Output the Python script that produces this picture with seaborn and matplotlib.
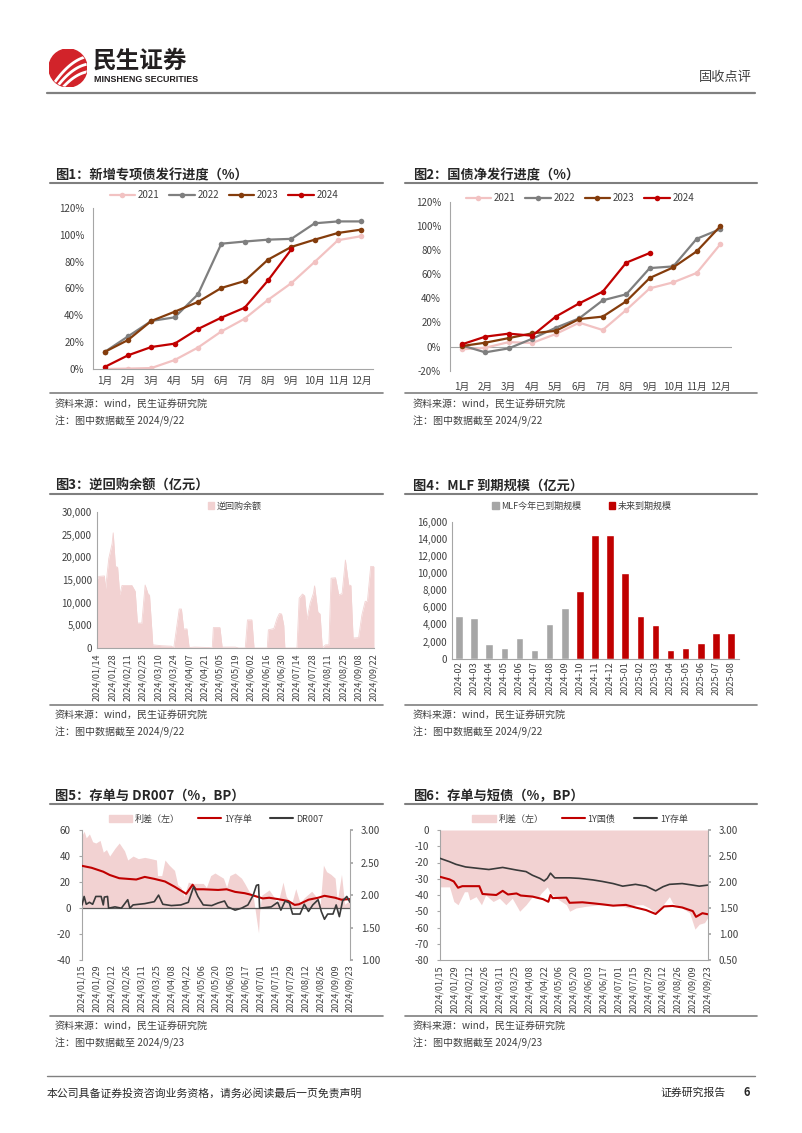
import numpy as np
import pandas as pd
import matplotlib
matplotlib.use("Agg")
import matplotlib.pyplot as plt
import matplotlib.ticker as mticker
from matplotlib.lines import Line2D
from matplotlib.patches import Patch, Circle
import seaborn as sns

sns.set_theme(style="white")
plt.rcParams["font.family"] = ["Noto Sans CJK SC", "DejaVu Sans"]
plt.rcParams["axes.unicode_minus"] = False

# ---------------- data ----------------
months = ["1月", "2月", "3月", "4月", "5月", "6月", "7月", "8月", "9月", "10月", "11月", "12月"]

f1_2021 = [0, 0.3, 0.7, 6.7, 16, 28, 37.5, 51.5, 64, 79.8, 96, 99]
f1_2022 = [12.7, 24.3, 35.8, 38.5, 55.7, 93.4, 95, 96.4, 97, 108.6, 110, 110]
f1_2023 = [12.7, 21.6, 35.8, 42.7, 50, 60.4, 65.6, 81.5, 91, 96.4, 101.4, 103.9]
f1_2024 = [1.5, 10.2, 16.4, 18.9, 29.8, 38.3, 45.7, 66, 89.2]

f2_2021 = [-2.3, -1, 3.7, 3, 10.4, 19.8, 13.7, 30.3, 48.2, 53.2, 61, 84.7]
f2_2022 = [1, -4.8, -1.5, 6.5, 15.6, 23.4, 38.3, 43.3, 65, 66.4, 89.3, 97.3]
f2_2023 = [0.4, 3.2, 7, 11, 13, 22.8, 24.8, 37.5, 56.8, 65.6, 78.9, 99.6]
f2_2024 = [1.8, 8.2, 10.7, 9, 24.8, 35.8, 45.5, 69.5, 77.5]

rr_dates = ["01-14", "01-16", "01-21", "01-22", "01-25", "01-28", "01-29", "01-31", "02-02", "02-04",
            "02-06", "02-15", "02-18", "02-20", "02-24", "02-27", "03-01", "03-02", "03-05", "03-13",
            "03-22", "03-24", "03-29", "03-31", "04-02", "04-05", "04-07", "04-12", "04-25", "04-28",
            "04-29", "05-05", "05-07", "05-19", "05-22", "05-28", "05-30", "06-03", "06-05", "06-17",
            "06-18", "06-23", "06-26", "06-28", "06-30", "07-02", "07-03", "07-14", "07-16", "07-19",
            "07-21", "07-23", "07-26", "07-29", "07-30", "08-02", "08-04", "08-06", "08-09", "08-12",
            "08-14", "08-18", "08-21", "08-24", "08-27", "08-30", "09-01", "09-03", "09-08", "09-11",
            "09-14", "09-16", "09-19", "09-22"]
rr_vals = [15000, 15800, 15900, 13000, 19800, 23000, 25400, 18000, 17800, 11700,
           13800, 13800, 12500, 5500, 5500, 13900, 11700, 11700, 700, 500,
           400, 0, 8600, 8600, 4200, 4200, 100, 200, 100, 0,
           4500, 4500, 200, 200, 0, 0, 6200, 6200, 0, 0,
           4000, 4300, 6600, 7600, 7500, 5000, 0, 0, 11000, 11900,
           11500, 6200, 9900, 12100, 13700, 7900, 7500, 0, 700, 700,
           15400, 15500, 11700, 12000, 19400, 13900, 13800, 2200, 2300, 7300,
           10300, 10300, 18000, 18000]

mlf_months = ["2024-02", "2024-03", "2024-04", "2024-05", "2024-06", "2024-07", "2024-08", "2024-09",
              "2024-10", "2024-11", "2024-12", "2025-01", "2025-02", "2025-03", "2025-04", "2025-05",
              "2025-06", "2025-07", "2025-08"]
mlf_vals = [5000, 4810, 1700, 1250, 2370, 1030, 4010, 5890,
            7890, 14500, 14500, 10000, 5000, 3880, 1000, 1250, 1800, 3000, 3000]
mlf_group = ["MLF今年已到期规模"] * 8 + ["未来到期规模"] * 11

f5_sp_dates = ["01-15", "01-17", "01-19", "01-22", "01-25", "01-28", "02-01", "02-04", "02-07", "02-10",
               "02-15", "02-19", "02-24", "02-27", "03-03", "03-08", "03-14", "03-20", "03-25", "03-26",
               "03-30", "04-02", "04-06", "04-11", "04-14", "04-17", "04-20", "04-24", "04-28", "05-08",
               "05-11", "05-15", "05-19", "05-23", "05-27", "05-30", "06-02", "06-07", "06-13", "06-16",
               "06-20", "06-24", "06-27", "06-29", "06-30", "07-02", "07-09", "07-14", "07-17", "07-22",
               "07-25", "07-30", "08-03", "08-07", "08-11", "08-18", "08-22", "08-26", "08-29", "09-01",
               "09-05", "09-09", "09-11", "09-15", "09-18", "09-21", "09-23"]
f5_spread = [56, 59, 54, 57, 51, 50, 52, 43, 45, 40,
             46, 50, 44, 37, 40, 38, 39, 38, 37, 25,
             25, 37, 33, 29, 18, 16, 9, 20, 19, 19,
             16, 25, 27, 25, 23, 16, 25, 27, 23, 19,
             13, 9, -8, -19, -3, 10, 14, 8, 3, 20,
             9, 3, 15, 4, 8, 13, 9, 3, 33, 28,
             26, 23, 5, 26, 3, 5, 4]

f5_cd_dates = ["01-15", "01-24", "02-04", "02-10", "02-19", "02-27", "03-06", "03-14", "03-23", "04-02",
               "04-11", "04-17", "04-22", "04-25", "04-28", "05-01", "05-08", "05-22", "05-30", "06-07",
               "06-16", "06-21", "06-27", "07-03", "07-09", "07-17", "07-27", "08-02", "08-06", "08-15",
               "08-24", "08-30", "09-09", "09-15", "09-23"]
f5_cd = [2.45, 2.42, 2.36, 2.31, 2.26, 2.25, 2.24, 2.28, 2.25, 2.21,
         2.13, 2.07, 2.02, 2.09, 2.16, 2.09, 2.09, 2.08, 2.09, 2.05,
         2.03, 2.01, 1.98, 1.95, 1.96, 1.94, 1.91, 1.85, 1.86, 1.93,
         1.96, 1.99, 1.96, 1.93, 1.94]

f5_dr_dates = ["01-15", "01-17", "01-19", "01-22", "01-25", "01-28", "02-02", "02-04", "02-05", "02-08",
               "02-09", "02-15", "02-21", "02-27", "02-29", "03-03", "03-14", "03-23", "03-27", "03-31",
               "04-08", "04-17", "04-24", "04-29", "05-03", "05-08", "05-16", "05-22", "05-28", "05-31",
               "06-07", "06-13", "06-19", "06-24", "06-27", "06-29", "06-30", "07-11", "07-17", "07-20",
               "07-24", "07-28", "07-31", "08-07", "08-11", "08-15", "08-19", "08-24", "08-27", "08-30",
               "09-02", "09-07", "09-10", "09-13", "09-16", "09-20", "09-23"]
f5_dr = [1.85, 1.98, 1.86, 1.89, 1.86, 1.98, 1.98, 1.85, 1.97, 1.98,
         1.80, 1.82, 1.80, 1.93, 1.80, 1.85, 1.87, 1.90, 2.00, 1.86,
         1.84, 1.85, 1.89, 2.13, 1.98, 1.85, 1.84, 1.88, 1.91, 1.82,
         1.77, 1.80, 1.85, 2.00, 2.15, 2.16, 1.80, 1.82, 1.89, 1.77,
         1.91, 1.88, 1.71, 1.71, 1.86, 1.75, 1.85, 1.93, 1.75, 1.63,
         1.71, 1.71, 1.85, 1.67, 1.91, 1.98, 1.89]

f6_sp_dates = ["01-15", "01-24", "01-28", "02-01", "02-07", "02-10", "02-12", "02-18", "02-23", "02-27",
               "03-05", "03-11", "03-17", "03-23", "03-30", "04-05", "04-11", "04-16", "04-19", "04-22",
               "04-25", "04-28", "05-02", "05-06", "05-13", "05-16", "05-22", "05-31", "06-13", "06-26",
               "07-05", "07-11", "07-17", "07-24", "07-30", "08-05", "08-12", "08-18", "08-21", "08-30",
               "09-06", "09-11", "09-15", "09-20", "09-23"]
f6_spread = [-35, -35, -44, -46, -38, -38, -43, -41, -46, -40,
             -44, -42, -46, -42, -50, -46, -41, -42, -39, -37,
             -35, -39, -41, -43, -46, -50, -48, -47, -46, -46,
             -47, -48, -46, -46, -48, -51, -46, -41, -45, -48,
             -51, -61, -58, -57, -54]

f6_cd_dates = ["01-15", "01-24", "01-30", "02-08", "02-21", "03-01", "03-14", "03-27", "04-05", "04-11",
               "04-18", "04-22", "04-25", "04-28", "05-02", "05-16", "05-25", "06-07", "06-16", "06-26",
               "07-05", "07-17", "07-27", "08-05", "08-12", "08-18", "08-30", "09-09", "09-15", "09-23"]
f6_cd = [2.455, 2.39, 2.34, 2.29, 2.26, 2.24, 2.28, 2.23, 2.20, 2.13,
         2.07, 2.02, 2.07, 2.17, 2.08, 2.08, 2.07, 2.04, 2.01, 1.97,
         1.92, 1.955, 1.92, 1.83, 1.91, 1.955, 1.97, 1.94, 1.92, 1.94]

f6_tb_dates = ["01-15", "01-24", "01-28", "02-01", "02-05", "02-21", "02-24", "03-01", "03-08", "03-14",
               "03-19", "03-27", "03-31", "04-11", "04-21", "04-26", "04-28", "04-30", "05-13", "05-16",
               "05-28", "06-07", "06-16", "06-26", "07-08", "07-17", "07-27", "08-05", "08-13", "08-21",
               "08-30", "09-09", "09-12", "09-18", "09-23"]
f6_tb = [2.10, 2.05, 2.01, 1.89, 1.92, 1.92, 1.77, 1.76, 1.75, 1.83,
         1.76, 1.78, 1.74, 1.72, 1.67, 1.62, 1.75, 1.69, 1.70, 1.60,
         1.61, 1.59, 1.57, 1.545, 1.56, 1.51, 1.46, 1.385, 1.53, 1.54,
         1.51, 1.44, 1.33, 1.40, 1.38]

# ---------------- helpers ----------------
W, H = 802, 1133
RED = "#C00000"
PINK = "#F2D2D2"
C2021 = "#F2C2C2"
C2022 = "#7F7F7F"
C2023 = "#843C0C"
DARK = "#3A3A3A"
AXC = "#A6A6A6"
TXT = "#404040"

fig = plt.figure(figsize=(W / 100, H / 100), dpi=100)


def box(x0, y0, x1, y1):
    return [x0 / W, 1 - y1 / H, (x1 - x0) / W, (y1 - y0) / H]


def ftext(x, y, s, **kw):
    kw.setdefault("va", "center")
    fig.text(x / W, 1 - y / H, s, **kw)


def hline(x0, x1, y, color="#7F7F7F", lw=1.5):
    fig.add_artist(Line2D([x0 / W, x1 / W], [1 - y / H, 1 - y / H], transform=fig.transFigure,
                          color=color, lw=lw))


def dt(lst):
    return pd.to_datetime(["2024-" + s for s in lst])


def base_style(ax):
    for s in ["top", "right"]:
        ax.spines[s].set_visible(False)
    for s in ["left", "bottom"]:
        ax.spines[s].set_color(AXC)
        ax.spines[s].set_linewidth(0.8)
    ax.tick_params(labelsize=7, colors=TXT, color=AXC, width=0.8, length=3, direction="out")
    ax.set_xlabel("")
    ax.set_ylabel("")
    ax.grid(False)


def fig_legend(handles, labels, x, y, fs=7, **kw):
    fig.legend(handles, labels, loc="center", bbox_to_anchor=(x / W, 1 - y / H),
               bbox_transform=fig.transFigure, frameon=False, fontsize=fs,
               labelcolor=TXT, **kw)


# ---------------- header ----------------
ax_logo = fig.add_axes(box(49, 49, 87, 87))
ax_logo.set_xlim(-1, 1)
ax_logo.set_ylim(-1, 1)
ax_logo.set_aspect("equal")
ax_logo.axis("off")
circ = Circle((0, 0), 1, color="#D2232A")
ax_logo.add_patch(circ)
t = np.linspace(-1.2, 1.2, 80)
for off in [-0.75, -0.35, 0.05]:
    ln, = ax_logo.plot(t, 0.9 * t + off - 0.35 * t ** 2, color="white", lw=2.0, solid_capstyle="butt")
    ln.set_clip_path(circ)
ftext(93, 61, "民生证券", fontsize=17, fontweight="bold", color="#231F20")
ftext(94, 80, "MINSHENG SECURITIES", fontsize=6.4, fontweight="bold", color="#231F20",
      family=["Liberation Sans", "DejaVu Sans"])
ftext(752, 78, "固收点评", fontsize=9.5, color=TXT, ha="right")
hline(47, 755, 93, color="#808080", lw=1.6)

# ---------------- section frames ----------------
rows = [(175, 183, 393, 404, 421), (486, 494, 705, 715, 732), (796, 804, 1016, 1026, 1043)]
titles = [("图1：新增专项债发行进度（%）", "图2：国债净发行进度（%）"),
          ("图3：逆回购余额（亿元）", "图4：MLF 到期规模（亿元）"),
          ("图5：存单与 DR007（%，BP）", "图6：存单与短债（%，BP）")]
notes = [("2024/9/22", "2024/9/22"), ("2024/9/22", "2024/9/22"), ("2024/9/23", "2024/9/23")]
for (ty, ly, sly, sy, ny), (tl, tr), (nl, nr) in zip(rows, titles, notes):
    for (x0, x1, tx, title, note) in [(50, 383, 55, tl, nl), (405, 757, 413, tr, nr)]:
        ftext(tx, ty, title, fontsize=9.5, fontweight="bold", color="#262626")
        hline(x0, x1, ly, lw=1.5)
        hline(x0, x1, sly, lw=1.2)
        ftext(tx, sy, "资料来源：wind，民生证券研究院", fontsize=7.2, color=TXT)
        ftext(tx, ny, "注：图中数据截至 " + note, fontsize=7.2, color=TXT)


# ---------------- charts 1 & 2 ----------------
def progress_chart(ax, series, ylim, pad):
    for vals, col in series:
        sns.lineplot(x=np.arange(len(vals)), y=vals, ax=ax, color=col, marker="o", markersize=4,
                     markeredgewidth=0, linewidth=1.6, legend=False)
    base_style(ax)
    ax.set_xlim(-0.5, 11.5)
    ax.set_ylim(*ylim)
    ax.set_yticks(np.arange(ylim[0], ylim[1] + 1, 20))
    ax.yaxis.set_major_formatter(mticker.FuncFormatter(lambda v, p: f"{v:.0f}%"))
    ax.set_xticks(range(12))
    ax.set_xticklabels(months)
    ax.set_xticks(np.arange(-0.5, 12, 1), minor=True)
    ax.tick_params(axis="x", which="major", length=0, pad=pad)
    ax.tick_params(axis="x", which="minor", length=3, color=AXC)


ax1 = fig.add_axes(box(93, 208, 373, 369))
series1 = [(f1_2021, C2021), (f1_2022, C2022), (f1_2023, C2023), (f1_2024, RED)]
progress_chart(ax1, series1, (0, 120), 5)
yr_labels = ["2021", "2022", "2023", "2024"]
h1 = [Line2D([], [], color=c, marker="o", markersize=4, markeredgewidth=0, lw=1.6) for _, c in series1]
fig_legend(h1, yr_labels, 224, 195, fs=7, ncol=4, numpoints=1, handlelength=2.6,
           columnspacing=1.0, handletextpad=0.3)

ax2 = fig.add_axes(box(450, 201.7, 732, 370.7))
series2 = [(f2_2021, C2021), (f2_2022, C2022), (f2_2023, C2023), (f2_2024, RED)]
progress_chart(ax2, series2, (-20, 120), 8)
ax2.spines["bottom"].set_visible(False)
ax2.tick_params(axis="x", which="minor", length=0)
ax2.axhline(0, color=AXC, lw=0.8, zorder=0)
fig_legend(h1, yr_labels, 580, 198, fs=7, ncol=4, numpoints=1, handlelength=2.6,
           columnspacing=1.0, handletextpad=0.3)

# ---------------- chart 3 ----------------
ax3 = fig.add_axes(box(96.7, 512, 374, 648))
d3 = dt(rr_dates)
ax3.fill_between(d3, 0, rr_vals, color=PINK, lw=0)
sns.lineplot(x=d3, y=rr_vals, ax=ax3, color=PINK, lw=0.6, legend=False)
base_style(ax3)
ax3.set_xlim(pd.Timestamp("2024-01-14"), pd.Timestamp("2024-09-22"))
ax3.set_ylim(0, 30000)
ax3.set_yticks(np.arange(0, 30001, 5000))
ax3.yaxis.set_major_formatter(mticker.FuncFormatter(lambda v, p: f"{v:,.0f}"))
tk3 = pd.date_range("2024-01-14", "2024-09-22", freq="14D")
ax3.set_xticks(tk3)
ax3.set_xticklabels([d.strftime("%Y/%m/%d") for d in tk3], rotation=90, fontsize=6.5)
ax3.tick_params(axis="y", length=1.5, pad=2, labelsize=7)
ax3.tick_params(axis="x", length=2, pad=2)
ax3.set_xlabel("")
fig_legend([Patch(color=PINK)], ["逆回购余额"], 235, 506, fs=6.5, handlelength=0.7,
           handleheight=0.7, handletextpad=0.3)

# ---------------- chart 4 ----------------
ax4 = fig.add_axes(box(451.5, 521.7, 738.5, 658.7))
df4 = pd.DataFrame({"month": mlf_months, "val": mlf_vals, "grp": mlf_group})
sns.barplot(data=df4, x="month", y="val", hue="grp", dodge=False, width=0.5, saturation=1,
            palette={"MLF今年已到期规模": "#A6A6A6", "未来到期规模": RED}, ax=ax4, legend=False)
base_style(ax4)
ax4.set_xlim(-0.5, 18.5)
ax4.set_ylim(0, 16000)
ax4.set_yticks(np.arange(0, 16001, 2000))
ax4.yaxis.set_major_formatter(mticker.FuncFormatter(lambda v, p: f"{v:,.0f}"))
ax4.tick_params(axis="y", length=0, pad=3, labelsize=7)
ax4.tick_params(axis="x", length=0, pad=2, labelsize=6.5, rotation=90)
ax4.set_xlabel("")
ax4.set_ylabel("")
fig_legend([Patch(color="#A6A6A6"), Patch(color=RED)], ["MLF今年已到期规模", "未来到期规模"],
           582, 506, fs=6.5, ncol=2, handlelength=0.7, handleheight=0.7, handletextpad=0.3,
           columnspacing=3.0)


# ---------------- charts 5 & 6 ----------------
def spread_chart(ax, sp_dates, sp, lines, ylim, yticks, rlim, rticks):
    ax.fill_between(dt(sp_dates), 0, sp, color=PINK, lw=0)
    base_style(ax)
    ax.set_ylim(*ylim)
    ax.set_yticks(yticks)
    ax.set_xlim(pd.Timestamp("2024-01-15"), pd.Timestamp("2024-09-23"))
    tk = pd.date_range("2024-01-15", "2024-09-23", freq="14D")
    ax.set_xticks(tk)
    ax.set_xticklabels([d.strftime("%Y/%m/%d") for d in tk], rotation=90, fontsize=6.5)
    ax.tick_params(axis="y", length=2, pad=6, labelsize=7)
    axr = ax.twinx()
    for dts, vals, col, lw in lines:
        sns.lineplot(x=dt(dts), y=vals, ax=axr, color=col, lw=lw, legend=False)
    axr.set_ylim(*rlim)
    axr.set_yticks(rticks)
    axr.yaxis.set_major_formatter(mticker.FormatStrFormatter("%.2f"))
    for s in ["top", "left", "bottom"]:
        axr.spines[s].set_visible(False)
    axr.spines["right"].set_color(AXC)
    axr.spines["right"].set_linewidth(0.8)
    axr.tick_params(axis="y", labelsize=7, colors=TXT, color=AXC, length=2, pad=6)
    axr.set_ylabel("")
    axr.set_xlabel("")
    axr.grid(False)
    return axr


ax5 = fig.add_axes(box(82, 830, 350, 960.3))
spread_chart(ax5, f5_sp_dates, f5_spread,
             [(f5_cd_dates, f5_cd, RED, 1.5), (f5_dr_dates, f5_dr, DARK, 1.2)],
             (-40, 60), np.arange(-40, 61, 20), (1.0, 3.0), np.arange(1.0, 3.01, 0.5))
ax5.spines["bottom"].set_visible(False)
ax5.axhline(0, color="#595959", lw=0.9, zorder=1)
ax5.tick_params(axis="x", length=0, pad=3)
fig_legend([Patch(color=PINK), Line2D([], [], color=RED, lw=1.5), Line2D([], [], color=DARK, lw=1.5)],
           ["利差（左）", "1Y存单", "DR007"], 216, 819, fs=6.5, ncol=3, handlelength=2.6,
           handleheight=0.8, handletextpad=0.3, columnspacing=2.0)

ax6 = fig.add_axes(box(440, 830, 707.7, 960))
spread_chart(ax6, f6_sp_dates, f6_spread,
             [(f6_tb_dates, f6_tb, RED, 1.5), (f6_cd_dates, f6_cd, DARK, 1.2)],
             (-80, 0), np.arange(-80, 1, 10), (0.5, 3.0), np.arange(0.5, 3.01, 0.5))
ax6.tick_params(axis="x", length=2, pad=2)
fig_legend([Patch(color=PINK), Line2D([], [], color=RED, lw=1.5), Line2D([], [], color=DARK, lw=1.5)],
           ["利差（左）", "1Y国债", "1Y存单"], 580, 819, fs=6.5, ncol=3, handlelength=2.6,
           handleheight=0.8, handletextpad=0.3, columnspacing=2.0)

# ---------------- footer ----------------
hline(47, 755, 1076, color="#808080", lw=1.0)
ftext(47, 1093, "本公司具备证券投资咨询业务资格，请务必阅读最后一页免责声明", fontsize=7.8, color="#262626")
ftext(660, 1093, "证券研究报告", fontsize=7.8, color="#262626")
ftext(743, 1093, "6", fontsize=8, fontweight="bold", color="#262626")

fig.savefig("out.png", dpi=100)
